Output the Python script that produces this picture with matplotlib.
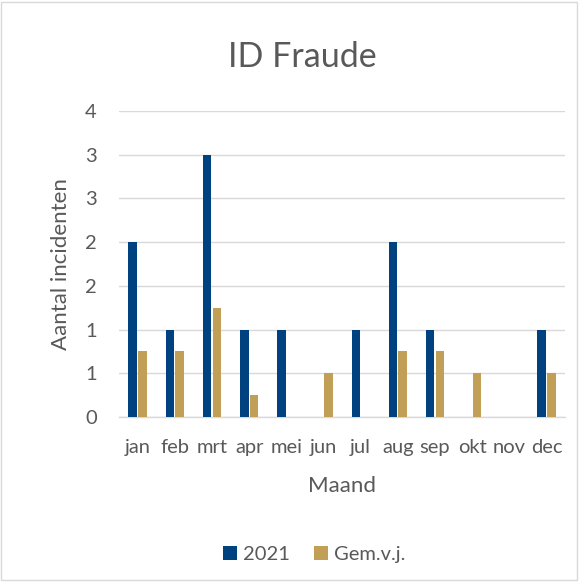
import matplotlib
matplotlib.use("Agg")
import matplotlib.pyplot as plt
import numpy as np
from matplotlib.patches import Rectangle

months = ["jan", "feb", "mrt", "apr", "mei", "jun", "jul", "aug", "sep", "okt", "nov", "dec"]
vals_2021 = [2, 1, 3, 1, 1, 0, 1, 2, 1, 0, 0, 1]
vals_gem = [0.75, 0.75, 1.25, 0.25, 0, 0.5, 0, 0.75, 0.75, 0.5, 0, 0.5]
ytick_vals = [0, 0.5, 1, 1.5, 2, 2.5, 3, 3.5]
ytick_labels = ["0", "1", "1", "2", "2", "3", "3", "4"]

navy = "#00427F"
gold = "#C19F57"
txt = "#595959"
plt.rcParams['font.family'] = ['Lato', 'DejaVu Sans']

fig = plt.figure(figsize=(5.82, 5.84), dpi=100)
fig.patches.append(Rectangle((0.002, 0.006), 0.99, 0.99, transform=fig.transFigure,
                             fill=False, edgecolor="#D9D9D9", linewidth=1))
ax = fig.add_axes([0.2045, 0.286, 0.7665, 0.524])

x = np.arange(len(months))
w = 0.23
g = 0.03
ax.bar(x - w / 2 - g / 2, vals_2021, width=w, color=navy, label="2021", zorder=3)
ax.bar(x + w / 2 + g / 2, vals_gem, width=w, color=gold, label="Gem.v.j.", zorder=3)

ax.set_xlim(-0.5, 11.5)
ax.set_ylim(0, 3.5)
ax.set_yticks(ytick_vals)
ax.set_yticklabels(ytick_labels)
ax.set_xticks(x)
ax.set_xticklabels(months)
ax.yaxis.grid(True, color="#D9D9D9", linewidth=1.0, zorder=0)
ax.set_axisbelow(True)
for s in ["top", "right", "left"]:
    ax.spines[s].set_visible(False)
ax.spines["bottom"].set_color("#D9D9D9")
ax.spines["bottom"].set_linewidth(1.0)
ax.tick_params(axis="both", length=0, colors=txt, labelsize=14.5)
ax.tick_params(axis="x", pad=16)
ax.tick_params(axis="y", pad=16)
ax.set_xlabel("Maand", color=txt, fontsize=16, labelpad=14)
ax.set_ylabel("Aantal incidenten", color=txt, fontsize=16, labelpad=10)

fig.text(0.52, 0.902, "ID Fraude", ha="center", va="center", fontsize=24.5, color=txt)

fig.legend(loc="center", bbox_to_anchor=(0.54, 0.05), ncol=2, frameon=False,
           fontsize=14.5, handlelength=0.7, handleheight=0.7, handletextpad=0.3,
           columnspacing=1.2, labelcolor=txt)

fig.savefig("out.png", dpi=100)
